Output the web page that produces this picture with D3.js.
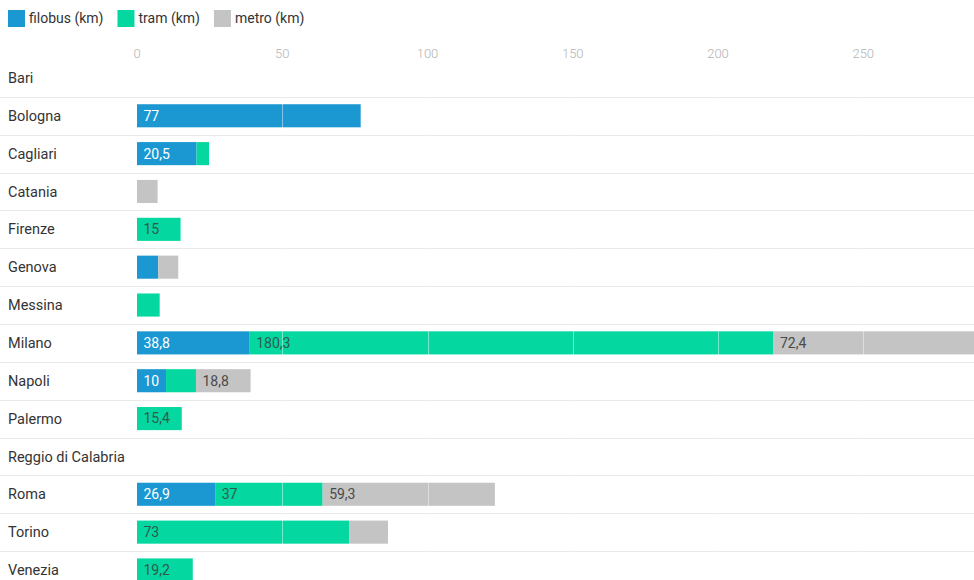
<!DOCTYPE html>
<html>
<head>
<meta charset="utf-8">
<script src="https://cdn.jsdelivr.net/npm/d3@7"></script>
<style>
  html, body { margin: 0; padding: 0; background: #fff; overflow: hidden; }
  svg { display: block; font-family: Roboto, "Noto Sans", sans-serif; }
</style>
</head>
<body>
<svg id="chart" width="974" height="580"></svg>
<script>
// ---- data ----
const cities = ["Bari", "Bologna", "Cagliari", "Catania", "Firenze", "Genova", "Messina",
  "Milano", "Napoli", "Palermo", "Reggio di Calabria", "Roma", "Torino", "Venezia"];
const filobus = [0, 77, 20.5, 0, 0, 7.3, 0, 38.8, 10, 0, 0, 26.9, 0, 0];
const tram    = [0, 0, 4.3, 0, 15, 0, 7.8, 180.3, 10.3, 15.4, 0, 37, 73, 19.2];
const metro   = [0, 0, 0, 7.1, 0, 6.9, 0, 72.4, 18.8, 0, 0, 59.3, 13.4, 0];
const seriesNames = ["filobus (km)", "tram (km)", "metro (km)"];
const tickValues = [0, 50, 100, 150, 200, 250];

const colors = ["#1b98d1", "#04d7a0", "#c4c4c4"];
const textColors = ["#ffffff", "#2e5a4c", "#4a4a4a"];

const svg = d3.select("#chart");
const W = 974, H = 580;

const x = d3.scaleLinear().domain([0, 300]).range([137, 137 + 871.5]);
const y = d3.scaleBand().domain(cities).range([59, 59 + cities.length * 37.85]).paddingInner(0.39).paddingOuter(0.195);

// stack
const rows = cities.map((c, i) => ({ city: c, s0: filobus[i], s1: tram[i], s2: metro[i] }));
const stack = d3.stack().keys(["s0", "s1", "s2"])(rows);

// row separators
const step = y.step();
const sepG = svg.append("g");
for (let i = 1; i < cities.length; i++) {
  const yy = Math.round(59 + i * step) + 0.5;
  sepG.append("line").attr("x1", 0).attr("x2", W).attr("y1", yy).attr("y2", yy)
    .attr("stroke", "#e9e9e9").attr("stroke-width", 1);
}

// category labels
svg.append("g").selectAll("text").data(cities).join("text")
  .attr("x", 8).attr("y", d => y(d) + y.bandwidth() / 2)
  .attr("dy", "0.35em").attr("font-size", 14.5).attr("fill", "#333")
  .text(d => d);

// bars
const barsG = svg.append("g");
stack.forEach((layer, si) => {
  const g = barsG.append("g");
  layer.forEach((seg, i) => {
    const v = seg[1] - seg[0];
    if (v <= 0) return;
    const x0 = x(seg[0]), x1 = x(seg[1]);
    g.append("rect")
      .attr("x", x0).attr("y", y(cities[i]))
      .attr("width", x1 - x0).attr("height", y.bandwidth())
      .attr("fill", colors[si]);
  });
});

// white grid lines over bars
const gridG = svg.append("g");
tickValues.concat([300]).forEach(t => {
  if (t === 0) return;
  gridG.append("line").attr("x1", Math.round(x(t)) + 0.5).attr("x2", Math.round(x(t)) + 0.5)
    .attr("y1", 62).attr("y2", H).attr("stroke", "#ffffff").attr("stroke-opacity", 0.45);
});

// value labels
const fmt = v => d3.format(".1~f")(v).replace(".", ",");
const labG = svg.append("g");
stack.forEach((layer, si) => {
  layer.forEach((seg, i) => {
    const v = seg[1] - seg[0];
    if (v <= 0) return;
    const x0 = x(seg[0]), x1 = x(seg[1]);
    const t = labG.append("text")
      .attr("x", x0 + 6.5).attr("y", y(cities[i]) + y.bandwidth() / 2)
      .attr("dy", "0.35em").attr("font-size", 14)
      .attr("fill", textColors[si])
      .text(fmt(v));
    const tw = t.node().getComputedTextLength();
    if (x1 - x0 < tw * 1.6) t.remove();
  });
});

// axis ticks (top)
svg.append("g").selectAll("text").data(tickValues).join("text")
  .attr("x", d => x(d)).attr("y", 53).attr("dy", "0.35em")
  .attr("text-anchor", "middle").attr("font-size", 13).attr("font-weight", 300)
  .attr("fill", "#b3b3b3").text(d => d);

// legend
const legend = svg.append("g");
let lx = 8;
seriesNames.forEach((name, i) => {
  legend.append("rect").attr("x", lx).attr("y", 10).attr("width", 17).attr("height", 17).attr("fill", colors[i]);
  const t = legend.append("text").attr("x", lx + 21).attr("y", 18.5).attr("dy", "0.35em")
    .attr("font-size", 14).attr("fill", "#333").text(name);
  lx += 21 + t.node().getComputedTextLength() + 14;
});
</script>
</body>
</html>
